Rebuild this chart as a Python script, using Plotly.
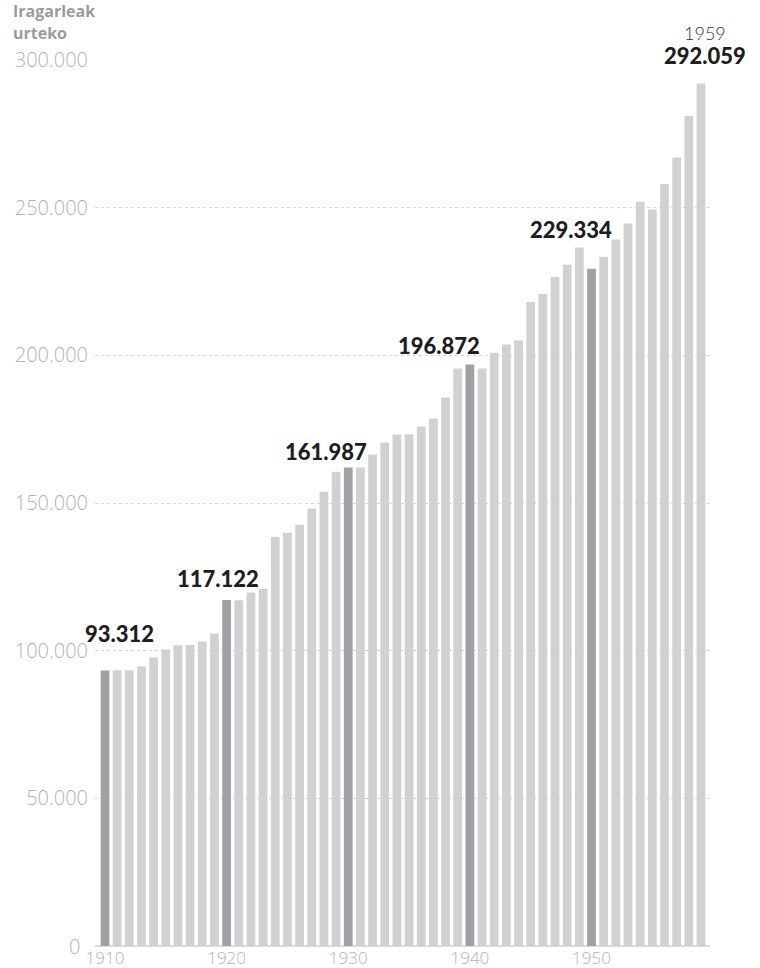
import plotly.graph_objects as go

years = [1910, 1911, 1912, 1913, 1914, 1915, 1916, 1917, 1918, 1919,
         1920, 1921, 1922, 1923, 1924, 1925, 1926, 1927, 1928, 1929,
         1930, 1931, 1932, 1933, 1934, 1935, 1936, 1937, 1938, 1939,
         1940, 1941, 1942, 1943, 1944, 1945, 1946, 1947, 1948, 1949,
         1950, 1951, 1952, 1953, 1954, 1955, 1956, 1957, 1958, 1959]
ads = [93312, 93400, 93400, 94700, 97700, 100400, 101800, 101900, 103100, 105800,
       117122, 117100, 119700, 121000, 138500, 139900, 142600, 148100, 153800, 160600,
       161987, 162000, 166400, 170500, 173200, 173300, 175900, 178600, 185700, 195500,
       196872, 195500, 200900, 203700, 205000, 218100, 220800, 226600, 230700, 236500,
       229334, 233400, 239200, 244600, 252000, 249400, 258000, 267000, 281000, 292059]
highlight_years = [1910, 1920, 1930, 1940, 1950]
label_years = [1910, 1920, 1930, 1940, 1950]
label_text = ["93.312", "117.122", "161.987", "196.872", "229.334"]
last_year_label = "1959"
last_value_label = "292.059"
title_lines = ["Iragarleak", "urteko"]
x_ticks = [1910, 1920, 1930, 1940, 1950]
y_ticks = [0, 50000, 100000, 150000, 200000, 250000, 300000]
y_tick_text = ["0", "50.000", "100.000", "150.000", "200.000", "250.000", "300.000"]

LIGHT = "#d0d1d3"
DARK = "#a0a1a4"
TICK = "#b3b3b3"
colors = [DARK if y in highlight_years else LIGHT for y in years]

BOLD = dict(family="Lato", size=22, color="#1e1e1e", weight=900)

fig = go.Figure()
fig.add_trace(go.Bar(x=years, y=ads, marker=dict(color=colors, line=dict(width=0)),
                     hoverinfo="x+y"))

# label offsets (pixels)
xshifts = [15, -9, -22, -31, -21]
yshifts = [37, 22, 16, 19, 39]
for yr, txt, xs, ys in zip(label_years, label_text, xshifts, yshifts):
    v = ads[years.index(yr)]
    fig.add_annotation(x=yr, y=v, text=txt, showarrow=False, xanchor="center",
                       yanchor="middle", xshift=xs, yshift=ys, borderpad=0, font=BOLD)

# last year: year + value in one block
fig.add_annotation(
    x=years[-1], y=ads[-1], showarrow=False, xanchor="center", yanchor="middle",
    xshift=4, yshift=38, borderpad=0, align="center",
    text=("<span style='font-size:18px;font-weight:300;color:#333333'>%s</span><br>"
          "<span style='font-size:22px;font-weight:900;color:#1e1e1e'>%s</span>")
    % (last_year_label, last_value_label),
    font=dict(family="Lato", size=18.5, color="#1e1e1e"))

# title (two lines)
for line, ys in zip(title_lines, [49, 27]):
    fig.add_annotation(xref="paper", yref="paper", x=-0.135, y=1.0, yshift=ys,
                       xanchor="left", yanchor="middle", showarrow=False, text=line,
                       borderpad=0,
                       font=dict(family="Open Sans", size=16, color="#9b9b9b", weight=700))

# zero label
fig.add_annotation(xref="paper", x=0, y=y_ticks[0], text=y_tick_text[0], showarrow=False,
                   xanchor="right", yanchor="middle", xshift=-14, borderpad=0,
                   font=dict(family="Open Sans", size=20, color=TICK, weight=300))

fig.update_layout(
    width=760, height=968,
    margin=dict(l=95, r=50, t=60, b=22, autoexpand=False),
    paper_bgcolor="white", plot_bgcolor="white",
    showlegend=False, bargap=0.28,
    font=dict(family="Lato", color=TICK),
    xaxis=dict(range=[1909.18, 1959.74], tickvals=x_ticks, ticktext=[str(t) for t in x_ticks],
               showgrid=False, zeroline=False, showline=False, ticks="",
               automargin=False,
               tickfont=dict(family="Open Sans", size=17, color=TICK, weight=300),
               ticklabelstandoff=0),
    yaxis=dict(range=[0, 300000], tickvals=y_ticks[1:], ticktext=y_tick_text[1:],
               showgrid=True, gridcolor="#d6d6d6", griddash="3px,3px", gridwidth=1,
               zeroline=True, zerolinecolor="#dcdcdc", zerolinewidth=2,
               showline=False, ticks="", automargin=False,
               tickfont=dict(family="Open Sans", size=20, color=TICK, weight=300),
               ticklabelstandoff=6),
)

fig.write_html("out.html", config={"displayModeBar": False},
               post_script="document.body.style.margin='0';document.body.style.overflow='hidden';")
